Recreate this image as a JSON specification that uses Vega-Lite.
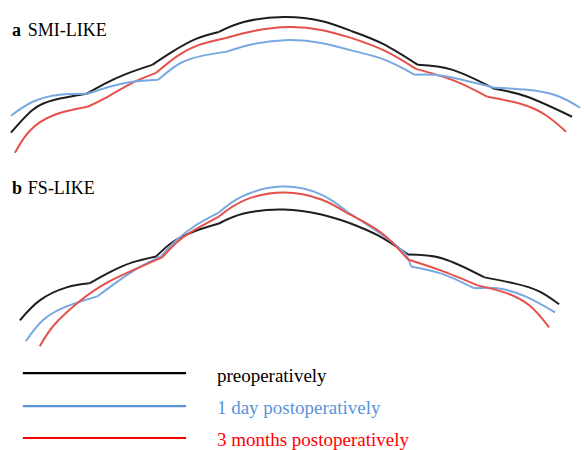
{
  "$schema": "https://vega.github.io/schema/vega-lite/v6.json",
  "width": 584,
  "height": 450,
  "padding": 0,
  "autosize": {"type": "fit", "contains": "padding"},
  "background": "white",
  "view": {"stroke": null},
  "layer": [
    {
      "data": {"values": [{"x":218,"y":377,"text":"preoperatively"}]},
      "mark": {"type": "text", "align": "left", "fontSize": 19, "font": "serif"},
      "encoding": {
        "x": {"field": "x", "type": "quantitative", "scale": {"domain": [0, 584], "nice": false, "zero": false}, "axis": null},
        "y": {"field": "y", "type": "quantitative", "scale": {"domain": [0, 450], "nice": false, "zero": false, "reverse": true}, "axis": null},
        "text": {"field": "text"}
      }
    },
    {
      "data": {"values": [{"x":218,"y":409,"text":"1 day postoperatively"}]},
      "mark": {"type": "text", "align": "left", "fontSize": 19, "font": "serif", "fill": "#5b93db"},
      "encoding": {"x": {"field": "x", "type": "quantitative"}, "y": {"field": "y", "type": "quantitative"}, "text": {"field": "text"}}
    },
    {
      "data": {"values": [{"x":218,"y":441,"text":"3 months postoperatively"}]},
      "mark": {"type": "text", "align": "left", "fontSize": 19, "font": "serif", "fill": "#ff0000"},
      "encoding": {"x": {"field": "x", "type": "quantitative"}, "y": {"field": "y", "type": "quantitative"}, "text": {"field": "text"}}
    },
    {
      "data": {"values": [{"x":12,"y":31,"text":"a"},{"x":12,"y":189,"text":"b"}]},
      "mark": {"type": "text", "align": "left", "fontSize": 18, "fontWeight": "bold", "font": "serif"},
      "encoding": {"x": {"field": "x", "type": "quantitative"}, "y": {"field": "y", "type": "quantitative"}, "text": {"field": "text"}}
    },
    {
      "data": {"values": [{"x":28,"y":31,"text":"SMI-LIKE"},{"x":28,"y":189,"text":"FS-LIKE"}]},
      "mark": {"type": "text", "align": "left", "fontSize": 18, "font": "serif"},
      "encoding": {"x": {"field": "x", "type": "quantitative"}, "y": {"field": "y", "type": "quantitative"}, "text": {"field": "text"}}
    },
    {
      "data": {"values": [
        {"series":"pre","x":23,"x2":187,"y":374},
        {"series":"d1","x":23,"x2":187,"y":407},
        {"series":"m3","x":23,"x2":187,"y":439}
      ]},
      "mark": {"type": "rule", "strokeWidth": 2.2},
      "encoding": {
        "x": {"field": "x", "type": "quantitative"},
        "x2": {"field": "x2"},
        "y": {"field": "y", "type": "quantitative"},
        "stroke": {"field": "series", "type": "nominal", "scale": {"domain": ["pre", "d1", "m3"], "range": ["#000000", "#5b93db", "#ff0000"]}, "legend": null}
      }
    },
    {
      "data": {"values": [
      {"series":"pre","seg":"a1","x":11,"y":133},{"series":"pre","seg":"a1","x":33,"y":110},{"series":"pre","seg":"a1","x":55,"y":100},{"series":"pre","seg":"a1","x":87,"y":94},
      {"series":"pre","seg":"a2","x":87,"y":94},{"series":"pre","seg":"a2","x":105,"y":84},{"series":"pre","seg":"a2","x":127,"y":74},{"series":"pre","seg":"a2","x":153,"y":65},
      {"series":"pre","seg":"a3","x":153,"y":65},{"series":"pre","seg":"a3","x":173,"y":52},{"series":"pre","seg":"a3","x":197,"y":39},{"series":"pre","seg":"a3","x":220,"y":32},
      {"series":"pre","seg":"a4","x":220,"y":32},{"series":"pre","seg":"a4","x":245,"y":22},{"series":"pre","seg":"a4","x":285,"y":17},{"series":"pre","seg":"a4","x":323,"y":21},{"series":"pre","seg":"a4","x":353,"y":31},
      {"series":"pre","seg":"a5","x":353,"y":31},{"series":"pre","seg":"a5","x":385,"y":44},{"series":"pre","seg":"a5","x":420,"y":65},
      {"series":"pre","seg":"a6","x":420,"y":65},{"series":"pre","seg":"a6","x":455,"y":70},{"series":"pre","seg":"a6","x":497,"y":89},
      {"series":"pre","seg":"a7","x":497,"y":89},{"series":"pre","seg":"a7","x":530,"y":97},{"series":"pre","seg":"a7","x":575,"y":117},

      {"series":"m3","seg":"a1","x":15,"y":153},{"series":"m3","seg":"a1","x":30,"y":131},{"series":"m3","seg":"a1","x":55,"y":115},{"series":"m3","seg":"a1","x":88,"y":107},
      {"series":"m3","seg":"a2","x":88,"y":107},{"series":"m3","seg":"a2","x":110,"y":96},{"series":"m3","seg":"a2","x":133,"y":83},{"series":"m3","seg":"a2","x":157,"y":73},
      {"series":"m3","seg":"a3","x":157,"y":73},{"series":"m3","seg":"a3","x":177,"y":57},{"series":"m3","seg":"a3","x":200,"y":45},{"series":"m3","seg":"a3","x":227,"y":38},
      {"series":"m3","seg":"a4","x":227,"y":38},{"series":"m3","seg":"a4","x":255,"y":31},{"series":"m3","seg":"a4","x":290,"y":27},{"series":"m3","seg":"a4","x":323,"y":30},{"series":"m3","seg":"a4","x":353,"y":38},
      {"series":"m3","seg":"a5","x":353,"y":38},{"series":"m3","seg":"a5","x":387,"y":51},{"series":"m3","seg":"a5","x":418,"y":69},
      {"series":"m3","seg":"a6","x":418,"y":69},{"series":"m3","seg":"a6","x":457,"y":81},{"series":"m3","seg":"a6","x":490,"y":97},
      {"series":"m3","seg":"a7","x":490,"y":97},{"series":"m3","seg":"a7","x":523,"y":104},{"series":"m3","seg":"a7","x":548,"y":115},{"series":"m3","seg":"a7","x":569,"y":132},

      {"series":"d1","seg":"a1","x":11,"y":116},{"series":"d1","seg":"a1","x":33,"y":102},{"series":"d1","seg":"a1","x":60,"y":95},{"series":"d1","seg":"a1","x":88,"y":94},
      {"series":"d1","seg":"a2","x":88,"y":94},{"series":"d1","seg":"a2","x":110,"y":87},{"series":"d1","seg":"a2","x":133,"y":82},{"series":"d1","seg":"a2","x":159,"y":80},
      {"series":"d1","seg":"a3","x":159,"y":80},{"series":"d1","seg":"a3","x":180,"y":64},{"series":"d1","seg":"a3","x":203,"y":56},{"series":"d1","seg":"a3","x":227,"y":52},
      {"series":"d1","seg":"a4","x":227,"y":52},{"series":"d1","seg":"a4","x":255,"y":44},{"series":"d1","seg":"a4","x":290,"y":40},{"series":"d1","seg":"a4","x":323,"y":43},{"series":"d1","seg":"a4","x":355,"y":51},
      {"series":"d1","seg":"a5","x":355,"y":51},{"series":"d1","seg":"a5","x":387,"y":60},{"series":"d1","seg":"a5","x":417,"y":75},
      {"series":"d1","seg":"a6","x":417,"y":75},{"series":"d1","seg":"a6","x":445,"y":76},{"series":"d1","seg":"a6","x":497,"y":88},
      {"series":"d1","seg":"a7","x":497,"y":88},{"series":"d1","seg":"a7","x":530,"y":90},{"series":"d1","seg":"a7","x":560,"y":96},{"series":"d1","seg":"a7","x":583,"y":108},

      {"series":"pre","seg":"b1","x":20,"y":321},{"series":"pre","seg":"b1","x":40,"y":301},{"series":"pre","seg":"b1","x":67,"y":288},{"series":"pre","seg":"b1","x":90,"y":284},
      {"series":"pre","seg":"b2","x":90,"y":284},{"series":"pre","seg":"b2","x":110,"y":273},{"series":"pre","seg":"b2","x":133,"y":263},{"series":"pre","seg":"b2","x":157,"y":257},
      {"series":"pre","seg":"b3","x":157,"y":257},{"series":"pre","seg":"b3","x":173,"y":243},{"series":"pre","seg":"b3","x":195,"y":232},{"series":"pre","seg":"b3","x":220,"y":224},
      {"series":"pre","seg":"b4","x":220,"y":224},{"series":"pre","seg":"b4","x":245,"y":214},{"series":"pre","seg":"b4","x":285,"y":210},{"series":"pre","seg":"b4","x":323,"y":215},{"series":"pre","seg":"b4","x":350,"y":223},
      {"series":"pre","seg":"b5","x":350,"y":223},{"series":"pre","seg":"b5","x":380,"y":236},{"series":"pre","seg":"b5","x":410,"y":255},
      {"series":"pre","seg":"b6","x":410,"y":255},{"series":"pre","seg":"b6","x":445,"y":259},{"series":"pre","seg":"b6","x":487,"y":278},
      {"series":"pre","seg":"b7","x":487,"y":278},{"series":"pre","seg":"b7","x":517,"y":284},{"series":"pre","seg":"b7","x":542,"y":292},{"series":"pre","seg":"b7","x":562,"y":305},

      {"series":"d1","seg":"b1","x":26,"y":342},{"series":"d1","seg":"b1","x":43,"y":321},{"series":"d1","seg":"b1","x":67,"y":307},{"series":"d1","seg":"b1","x":98,"y":297},
      {"series":"d1","seg":"b2","x":98,"y":297},{"series":"d1","seg":"b2","x":117,"y":283},{"series":"d1","seg":"b2","x":140,"y":268},{"series":"d1","seg":"b2","x":162,"y":257},
      {"series":"d1","seg":"b3","x":162,"y":257},{"series":"d1","seg":"b3","x":177,"y":241},{"series":"d1","seg":"b3","x":198,"y":225},{"series":"d1","seg":"b3","x":220,"y":213},
      {"series":"d1","seg":"b4","x":220,"y":213},{"series":"d1","seg":"b4","x":243,"y":197},{"series":"d1","seg":"b4","x":283,"y":187},{"series":"d1","seg":"b4","x":323,"y":195},{"series":"d1","seg":"b4","x":350,"y":213},
      {"series":"d1","seg":"b5","x":350,"y":213},{"series":"d1","seg":"b5","x":385,"y":236},{"series":"d1","seg":"b5","x":407,"y":254},{"series":"d1","seg":"b5","x":413,"y":267},
      {"series":"d1","seg":"b6","x":413,"y":267},{"series":"d1","seg":"b6","x":443,"y":274},{"series":"d1","seg":"b6","x":477,"y":289},
      {"series":"d1","seg":"b7","x":477,"y":289},{"series":"d1","seg":"b7","x":500,"y":289},{"series":"d1","seg":"b7","x":528,"y":297},{"series":"d1","seg":"b7","x":558,"y":313},

      {"series":"m3","seg":"b1","x":40,"y":347},{"series":"m3","seg":"b1","x":55,"y":325},{"series":"m3","seg":"b1","x":80,"y":302},{"series":"m3","seg":"b1","x":110,"y":282},{"series":"m3","seg":"b1","x":163,"y":258},
      {"series":"m3","seg":"b2","x":163,"y":258},{"series":"m3","seg":"b2","x":180,"y":241},{"series":"m3","seg":"b2","x":200,"y":228},{"series":"m3","seg":"b2","x":220,"y":217},
      {"series":"m3","seg":"b3","x":220,"y":217},{"series":"m3","seg":"b3","x":245,"y":201},{"series":"m3","seg":"b3","x":285,"y":193},{"series":"m3","seg":"b3","x":323,"y":200},{"series":"m3","seg":"b3","x":348,"y":213},
      {"series":"m3","seg":"b4","x":348,"y":213},{"series":"m3","seg":"b4","x":383,"y":233},{"series":"m3","seg":"b4","x":410,"y":260},
      {"series":"m3","seg":"b5","x":410,"y":260},{"series":"m3","seg":"b5","x":443,"y":271},{"series":"m3","seg":"b5","x":480,"y":286},
      {"series":"m3","seg":"b6","x":480,"y":286},{"series":"m3","seg":"b6","x":507,"y":293},{"series":"m3","seg":"b6","x":532,"y":306},{"series":"m3","seg":"b6","x":552,"y":328}
      ]},
      "mark": {"type": "line", "interpolate": "natural", "strokeWidth": 2},
      "encoding": {
        "x": {"field": "x", "type": "quantitative"},
        "y": {"field": "y", "type": "quantitative"},
        "detail": {"field": "seg"},
        "color": {"field": "series", "type": "nominal", "scale": {"domain": ["pre", "d1", "m3"], "range": ["#1e1e1e", "#78a8e0", "#e6504b"]}, "legend": null}
      }
    }
  ]
}
